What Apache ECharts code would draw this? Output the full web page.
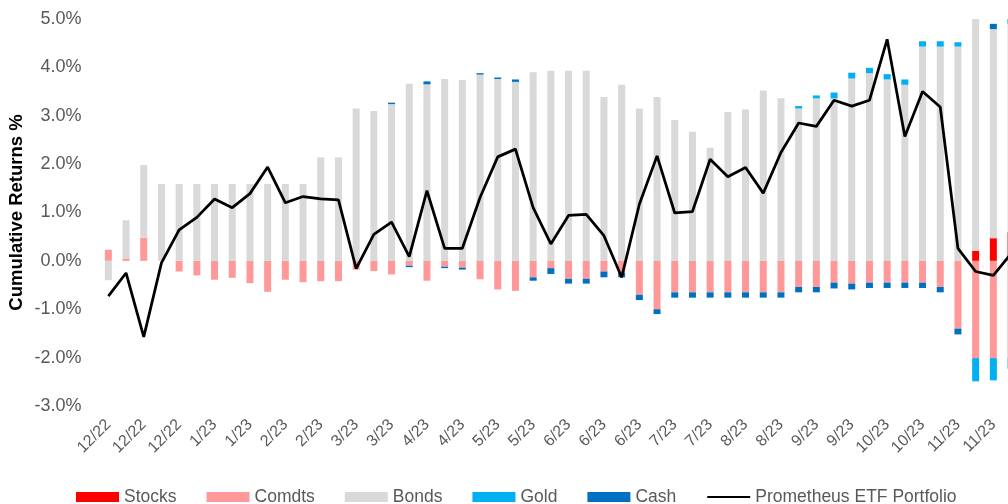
<!DOCTYPE html>
<html>
<head>
<meta charset="utf-8">
<script src="https://cdn.jsdelivr.net/npm/echarts@6/dist/echarts.min.js"></script>
<style>
  html, body { margin: 0; padding: 0; background: #ffffff; overflow: hidden; }
  #wrap { width: 1008px; height: 504px; overflow: hidden; }
  /* the plot runs slightly past the right edge, so the last week is clipped */
  #chart { width: 1024px; height: 504px; }
</style>
</head>
<body>
<div id="wrap"><div id="chart"></div></div>
<script>
// Weekly observations, Dec 2022 - Nov 2023 (month/year labels)
const weeks = [
  '12/22','12/22','12/22','12/22','12/22','1/23','1/23','1/23','1/23','2/23',
  '2/23','2/23','2/23','3/23','3/23','3/23','3/23','3/23','4/23','4/23',
  '4/23','4/23','5/23','5/23','5/23','5/23','6/23','6/23','6/23','6/23',
  '6/23','7/23','7/23','7/23','7/23','8/23','8/23','8/23','8/23','9/23',
  '9/23','9/23','9/23','9/23','10/23','10/23','10/23','10/23','11/23','11/23',
  '11/23','11/23'
];

// Cumulative return contribution by asset class (%)
const stocks = [
  0,0,0,0,0,0,0,0,0,0, 0,0,0,0,0,0,0,0,0,0,
  0,0,0,0,0,0,0,0,0,0, 0,0,0,0,0,0,0,0,0,0,
  0,0,0,0,0,0,0,0,0,0.21, 0.47,0.60
];
const comdts = [
  0.23,0.05,0.48,0,-0.22,-0.30,-0.39,-0.35,-0.46,-0.64,
  -0.39,-0.44,-0.42,-0.42,-0.18,-0.21,-0.28,-0.10,-0.41,-0.12,
  -0.14,-0.38,-0.59,-0.62,-0.34,-0.15,-0.37,-0.37,-0.22,-0.24,
  -0.70,-1.00,-0.65,-0.65,-0.65,-0.65,-0.65,-0.65,-0.65,-0.54,
  -0.54,-0.45,-0.47,-0.45,-0.45,-0.45,-0.45,-0.54,-1.40,-2.01,
  -2.01,-2.00
];
const bonds = [
  -0.40,0.79,1.50,1.59,1.59,1.59,1.59,1.59,1.59,1.59,
  1.59,1.59,2.14,2.14,3.15,3.10,3.24,3.66,3.65,3.76,
  3.74,3.85,3.76,3.70,3.90,3.93,3.93,3.93,3.39,3.64,
  3.15,3.39,2.91,2.67,2.34,3.08,3.13,3.52,3.36,3.15,
  3.36,3.36,3.77,3.88,3.75,3.64,4.43,4.43,4.43,4.79,
  4.32,4.30
];
const gold = [
  0,0,0,0,0,0,0,0,0,0, 0,0,0,0,0,0,0,0,0,0,
  0,0,0,0,0,0,0,0,0,0, 0,0,0,0,0,0,0,0,0,0.05,
  0.06,0.12,0.12,0.11,0.11,0.11,0.11,0.11,0.09,-0.48,
  -0.46,-0.23
];
const cash = [
  0,0,0,0,0,0,0,0,0,0, 0,0,0,0,0,0,0.03,-0.03,0.06,-0.03,
  -0.04,0.03,0.03,0.05,-0.07,-0.12,-0.10,-0.10,-0.12,-0.10,
  -0.11,-0.10,-0.11,-0.11,-0.11,-0.11,-0.11,-0.11,-0.11,-0.11,
  -0.11,-0.12,-0.12,-0.11,-0.11,-0.11,-0.11,-0.11,-0.12,0,
  0.11,0.10
];
// Total portfolio cumulative return (%)
const portfolio = [
  -0.73,-0.25,-1.57,-0.04,0.64,0.90,1.28,1.10,1.39,1.94,
  1.20,1.33,1.28,1.26,-0.16,0.55,0.80,0.09,1.45,0.26,
  0.26,1.31,2.15,2.31,1.10,0.35,0.94,0.96,0.52,-0.34,
  1.17,2.17,0.99,1.02,2.10,1.74,1.93,1.40,2.24,2.85,
  2.78,3.32,3.20,3.32,4.58,2.57,3.50,3.18,0.26,-0.22,
  -0.30,0.15
];

const FONT = '"Liberation Sans", sans-serif';
const GREY_TEXT = '#595959';

function barSeries(name, data, color) {
  return {
    name: name,
    type: 'bar',
    stack: 'assets',
    data: data,
    barWidth: 7,
    itemStyle: { color: color },
    emphasis: { disabled: true }
  };
}

const chart = echarts.init(document.getElementById('chart'), null, { renderer: 'canvas' });
chart.setOption({
  animation: false,
  backgroundColor: '#ffffff',
  textStyle: { fontFamily: FONT },
  grid: {
    left: 99.5, top: 19, width: 920.4, height: 387,
    containLabel: false,
    outerBoundsMode: 'none'
  },
  xAxis: {
    type: 'category',
    data: weeks,
    axisLine: { show: false },
    axisTick: { show: false },
    axisLabel: {
      interval: 1,
      rotate: 45,
      margin: 16,
      color: GREY_TEXT,
      fontSize: 16,
      fontFamily: FONT
    }
  },
  yAxis: {
    type: 'value',
    min: -3,
    max: 5,
    interval: 1,
    name: 'Cumulative Returns %',
    nameLocation: 'middle',
    nameGap: 73,
    nameRotate: 90,
    nameMoveOverlap: false,
    nameTextStyle: { color: '#000000', fontSize: 18.5, fontWeight: 'bold', fontFamily: FONT },
    axisLine: { show: false },
    axisTick: { show: false },
    splitLine: { show: false },
    axisLabel: {
      margin: 18,
      color: GREY_TEXT,
      fontSize: 18,
      fontFamily: FONT,
      formatter: v => v.toFixed(1) + '%'
    }
  },
  legend: {
    left: 71,
    top: 483,
    itemWidth: 43,
    itemHeight: 10,
    itemGap: 30,
    textStyle: { color: GREY_TEXT, fontSize: 17.5, fontFamily: FONT },
    data: [
      { name: 'Stocks', icon: 'rect' },
      { name: 'Comdts', icon: 'rect' },
      { name: 'Bonds', icon: 'rect' },
      { name: 'Gold', icon: 'rect' },
      { name: 'Cash', icon: 'rect' },
      { name: 'Prometheus ETF Portfolio', itemStyle: { color: 'rgba(0,0,0,0)', borderWidth: 0 } }
    ]
  },
  series: [
    barSeries('Stocks', stocks, '#ff0000'),
    barSeries('Comdts', comdts, '#ff9999'),
    barSeries('Bonds', bonds, '#d9d9d9'),
    barSeries('Gold', gold, '#00b0f0'),
    barSeries('Cash', cash, '#0070c0'),
    {
      name: 'Prometheus ETF Portfolio',
      type: 'line',
      data: portfolio,
      symbol: 'none',
      lineStyle: { color: '#000000', width: 2.75 },
      itemStyle: { color: '#000000' },
      emphasis: { disabled: true },
      z: 5
    }
  ]
});
</script>
</body>
</html>
